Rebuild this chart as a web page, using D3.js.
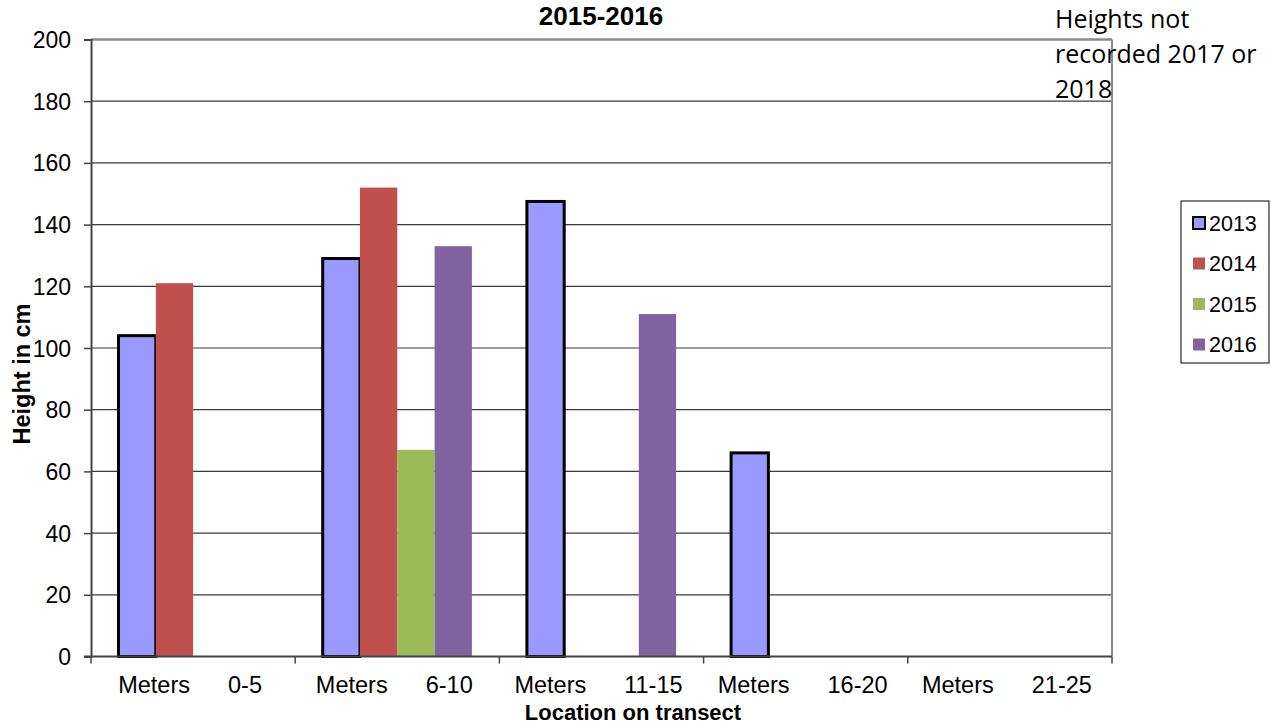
<!DOCTYPE html>
<html>
<head>
<meta charset="utf-8">
<script src="https://cdn.jsdelivr.net/npm/d3@7"></script>
<style>
    body { margin: 0; background: #fff; }
    svg { display: block; font-family: Arial, "Liberation Sans", sans-serif; }
</style>
</head>
<body>
<div id="chart"></div>
<script>
// Bar heights by transect location, one array per year (null = no bar)
const categories = ['0-5', '6-10', '11-15', '16-20', '21-25'];
const years = ['2013', '2014', '2015', '2016'];
const values2013 = [104, 129, 147.5, 66, null];
const values2014 = [121, 152, null, null, null];
const values2015 = [null, 67, null, null, null];
const values2016 = [null, 133, 111, null, null];
const yTicks = [0, 20, 40, 60, 80, 100, 120, 140, 160, 180, 200];
const noteLines = ['Heights not', 'recorded 2017 or', '2018'];

const colors = { '2013': '#9999FF', '2014': '#C0504D', '2015': '#9BBB59', '2016': '#8064A2' };
const seriesValues = { '2013': values2013, '2014': values2014, '2015': values2015, '2016': values2016 };

function createChart(containerId) {
    const W = 1271, H = 727;
    const plot = { left: 91, right: 1112, top: 39.5, bottom: 656.5 };

    d3.select(`#${containerId}`).selectAll('*').remove();

    const svg = d3.select(`#${containerId}`)
        .append('svg')
        .attr('width', W)
        .attr('height', H);

    // Scales
    const x = d3.scaleBand()
        .domain(categories)
        .range([plot.left, plot.right]);

    const xInner = d3.scaleBand()
        .domain(years)
        .range([27.5, x.bandwidth() - 27.5]);

    const y = d3.scaleLinear()
        .domain([0, 200])
        .range([plot.bottom, plot.top]);

    // Grid lines
    svg.append('g')
        .selectAll('line')
        .data(yTicks.filter(d => d > 0 && d < 200))
        .enter()
        .append('line')
        .attr('x1', plot.left)
        .attr('x2', plot.right)
        .attr('y1', d => y(d))
        .attr('y2', d => y(d))
        .style('stroke', '#3a3a3a')
        .style('stroke-width', 1.2);

    // Plot frame top / right
    svg.append('line')
        .attr('x1', plot.left).attr('x2', plot.right)
        .attr('y1', y(200)).attr('y2', y(200))
        .style('stroke', '#8a8a8a').style('stroke-width', 2.5);
    svg.append('line')
        .attr('x1', plot.right).attr('x2', plot.right)
        .attr('y1', y(200)).attr('y2', y(0))
        .style('stroke', '#8a8a8a').style('stroke-width', 2);

    // Bars
    const barData = [];
    categories.forEach((c, i) => {
        years.forEach(yr => {
            const v = seriesValues[yr][i];
            if (v != null) barData.push({ cat: c, year: yr, value: v });
        });
    });

    svg.append('g')
        .selectAll('rect')
        .data(barData)
        .enter()
        .append('rect')
        .attr('x', d => x(d.cat) + xInner(d.year))
        .attr('y', d => y(d.value))
        .attr('width', xInner.bandwidth())
        .attr('height', d => y(0) - y(d.value))
        .style('fill', d => colors[d.year])
        .style('stroke', d => d.year === '2013' ? '#000' : 'none')
        .style('stroke-width', 3);

    // Left axis
    const yAxis = svg.append('g')
        .attr('transform', `translate(${plot.left},0)`)
        .call(d3.axisLeft(y).tickValues(yTicks).tickSize(7).tickPadding(13));
    yAxis.select('.domain').style('stroke', '#444').style('stroke-width', 2);
    yAxis.selectAll('.tick line').style('stroke', '#444').style('stroke-width', 1.5);
    yAxis.selectAll('.tick text')
        .style('font-size', '23px')
        .style('fill', '#000')
        .attr('dy', '0.35em');

    // Bottom axis: ticks at category boundaries
    const bounds = categories.map(c => x(c)).concat([plot.right]);
    svg.append('line')
        .attr('x1', plot.left - 7).attr('x2', plot.right)
        .attr('y1', y(0)).attr('y2', y(0))
        .style('stroke', '#444').style('stroke-width', 2);
    svg.append('g')
        .selectAll('line')
        .data(bounds)
        .enter()
        .append('line')
        .attr('x1', d => d).attr('x2', d => d)
        .attr('y1', y(0)).attr('y2', y(0) + 7)
        .style('stroke', '#444').style('stroke-width', 1.5);

    // Category labels: "Meters" + range
    const labels = svg.append('g')
        .selectAll('text')
        .data(categories)
        .enter()
        .append('text')
        .attr('x', d => x(d) + x.bandwidth() / 2 - 3)
        .attr('y', 693)
        .style('text-anchor', 'middle')
        .style('font-size', '23.5px');
    labels.append('tspan').text('Meters');
    labels.append('tspan').attr('dx', 38).text(d => d);

    // Titles
    svg.append('text')
        .attr('x', 601)
        .attr('y', 25)
        .style('text-anchor', 'middle')
        .style('font-size', '26px')
        .style('font-weight', 'bold')
        .text('2015-2016');

    svg.append('text')
        .attr('transform', 'rotate(-90)')
        .attr('x', -374)
        .attr('y', 30)
        .style('text-anchor', 'middle')
        .style('font-size', '23.5px')
        .style('font-weight', 'bold')
        .text('Height in cm');

    svg.append('text')
        .attr('x', 633)
        .attr('y', 720)
        .style('text-anchor', 'middle')
        .style('font-size', '22px')
        .style('font-weight', 'bold')
        .text('Location on transect');

    // Note in the top right corner
    svg.append('g')
        .selectAll('text')
        .data(noteLines)
        .enter()
        .append('text')
        .attr('x', 1055)
        .attr('y', (d, i) => 28 + i * 35)
        .style('font-family', '"Open Sans", sans-serif')
        .style('font-size', '25px')
        .style('fill', '#000')
        .text(d => d);

    // Legend
    const legendBox = { x: 1181, y: 201, w: 88, h: 162 };
    svg.append('rect')
        .attr('x', legendBox.x)
        .attr('y', legendBox.y)
        .attr('width', legendBox.w)
        .attr('height', legendBox.h)
        .style('fill', '#fff')
        .style('stroke', '#000')
        .style('stroke-width', 1);

    const legend = svg.selectAll('.legend')
        .data(years)
        .enter()
        .append('g')
        .attr('class', 'legend')
        .attr('transform', (d, i) => `translate(${legendBox.x + 12},${legendBox.y + 22 + i * 40.5})`);

    legend.append('rect')
        .attr('x', 0)
        .attr('y', -6)
        .attr('width', 12)
        .attr('height', 12)
        .style('fill', d => colors[d])
        .style('stroke', d => d === '2013' ? '#000' : 'none')
        .style('stroke-width', 2);

    legend.append('text')
        .attr('x', 16)
        .attr('y', 0)
        .attr('dy', '.35em')
        .style('font-size', '21.5px')
        .text(d => d);
}

createChart('chart');
</script>
</body>
</html>
